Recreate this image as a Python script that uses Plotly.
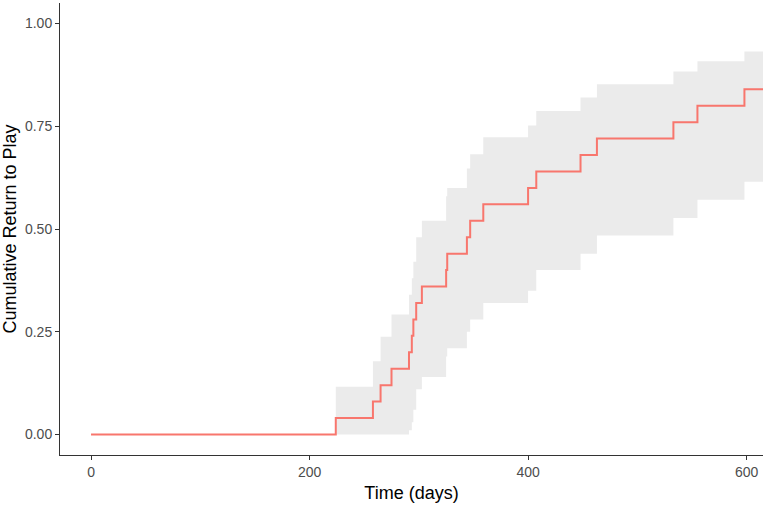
import plotly.graph_objects as go

# days since injury and cumulative return to play estimate with 95% CI
days = [0, 224, 258, 265, 275, 291, 293.6, 295, 297.6, 302.8, 325, 326,
        344, 347, 359, 400, 407.5, 448, 463, 533, 555, 598, 615]
cum_rtp = [0, 0.04, 0.08, 0.12, 0.16, 0.20, 0.24, 0.28, 0.32, 0.36, 0.40, 0.44,
           0.48, 0.52, 0.56, 0.60, 0.64, 0.68, 0.72, 0.76, 0.80, 0.84, 0.84]
ci_upper = [0, 0.116, 0.178, 0.238, 0.292, 0.34, 0.38, 0.42, 0.48, 0.52, 0.58, 0.60,
            0.647, 0.682, 0.723, 0.752, 0.787, 0.82, 0.852, 0.883, 0.908, 0.932, 0.932]
ci_lower = [0, 0, 0, 0, 0, 0.01, 0.03, 0.06, 0.11, 0.14, 0.19, 0.21,
            0.25, 0.28, 0.32, 0.35, 0.40, 0.44, 0.484, 0.527, 0.571, 0.615, 0.615]

fig = go.Figure()
fig.add_trace(go.Scatter(x=days, y=ci_lower, mode='lines', line=dict(width=0, shape='hv'),
                         showlegend=False, hoverinfo='skip'))
fig.add_trace(go.Scatter(x=days, y=ci_upper, mode='lines', line=dict(width=0, shape='hv'),
                         fill='tonexty', fillcolor='#ebebeb', showlegend=False, hoverinfo='skip'))
fig.add_trace(go.Scatter(x=days, y=cum_rtp, mode='lines',
                         line=dict(color='#F8766D', width=2, shape='hv'), showlegend=False))

axis_style = dict(showgrid=False, zeroline=False, showline=True, linecolor='#333333', linewidth=1,
                  ticks='outside', ticklen=4, tickcolor='#333333', automargin=False,
                  tickfont=dict(family='Liberation Sans, Arial', size=14, color='#4d4d4d'))

fig.update_xaxes(range=[-28.4, 615], tickvals=[0, 200, 400, 600],
                 title=dict(text='Time (days)', font=dict(family='Liberation Sans, Arial', size=18, color='black'),
                            standoff=7),
                 **axis_style)
fig.update_yaxes(range=[-0.05, 1.05], tickvals=[0, 0.25, 0.5, 0.75, 1], tickformat='.2f',
                 title=dict(text='Cumulative Return to Play',
                            font=dict(family='Liberation Sans, Arial', size=18, color='black'), standoff=4),
                 **axis_style)

fig.update_layout(width=768, height=506, plot_bgcolor='white', paper_bgcolor='white',
                  margin=dict(l=60, r=5, t=3, b=51))

# drop the browser's default body margin so the figure sits at the window corner
fig.write_html("out.html", config={'displayModeBar': False},
               post_script="document.body.style.margin='0';")
